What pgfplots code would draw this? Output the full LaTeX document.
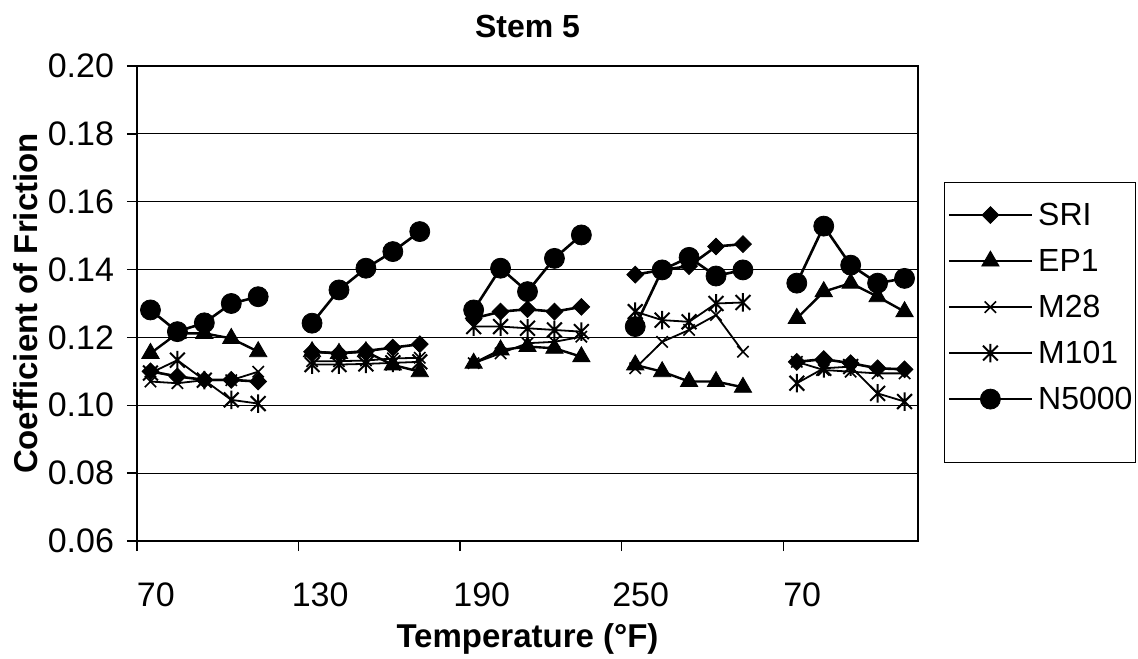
\documentclass[border=0pt]{standalone}
\usepackage{fontspec}
\setmainfont{Liberation Sans}
\usepackage{pgfplots}
\pgfplotsset{compat=1.18}
\usepackage{pgfplotstable}

\pgfdeclareplotmark{xast}{%
  \pgfpathmoveto{\pgfqpoint{-\pgfplotmarksize}{-\pgfplotmarksize}}%
  \pgfpathlineto{\pgfqpoint{\pgfplotmarksize}{\pgfplotmarksize}}%
  \pgfpathmoveto{\pgfqpoint{-\pgfplotmarksize}{\pgfplotmarksize}}%
  \pgfpathlineto{\pgfqpoint{\pgfplotmarksize}{-\pgfplotmarksize}}%
  \pgfpathmoveto{\pgfqpoint{0pt}{-1.25\pgfplotmarksize}}%
  \pgfpathlineto{\pgfqpoint{0pt}{1.25\pgfplotmarksize}}%
  \pgfusepathqstroke}
\pgfdeclareplotmark{sqdiamond}{%
  \pgfpathmoveto{\pgfqpoint{0pt}{\pgfplotmarksize}}%
  \pgfpathlineto{\pgfqpoint{\pgfplotmarksize}{0pt}}%
  \pgfpathlineto{\pgfqpoint{0pt}{-\pgfplotmarksize}}%
  \pgfpathlineto{\pgfqpoint{-\pgfplotmarksize}{0pt}}%
  \pgfpathclose
  \pgfusepathqfillstroke}

\pgfplotstableread{
x y
0 0.1100
1 0.1085
2 0.1075
3 0.1075
4 0.1070
5 nan
6 0.1158
7 0.1153
8 0.1160
9 0.1170
10 0.1180
11 nan
12 0.1256
13 0.1276
14 0.1283
15 0.1276
16 0.1290
17 nan
18 0.1385
19 0.1399
20 0.1410
21 0.1468
22 0.1475
23 nan
24 0.1128
25 0.1136
26 0.1124
27 0.1109
28 0.1106
}\sri

\pgfplotstableread{
x y
0 0.1153
1 0.1212
2 0.1212
3 0.1197
4 0.1158
5 nan
6 0.1158
7 0.1153
8 0.1158
9 0.1119
10 0.1099
11 nan
12 0.1124
13 0.1163
14 0.1173
15 0.1168
16 0.1143
17 nan
18 0.1119
19 0.1099
20 0.1070
21 0.1070
22 0.1053
23 nan
24 0.1256
25 0.1335
26 0.1360
27 0.1320
28 0.1276
}\epone

\pgfplotstableread{
x y
0 0.1070
1 0.1065
2 0.1074
3 0.1074
4 0.1099
5 nan
6 0.1130
7 0.1130
8 0.1132
9 0.1138
10 0.1140
11 nan
12 0.1124
13 0.1153
14 0.1183
15 0.1187
16 0.1202
17 nan
18 0.1109
19 0.1187
20 0.1222
21 0.1266
22 0.1158
23 nan
24 0.1128
25 0.1104
26 0.1099
27 0.1094
28 0.1094
}\mtwe

\pgfplotstableread{
x y
0 0.1095
1 0.1133
2 0.1074
3 0.1016
4 0.1005
5 nan
6 0.1120
7 0.1120
8 0.1122
9 0.1125
10 0.1128
11 nan
12 0.1232
13 0.1232
14 0.1227
15 0.1222
16 0.1217
17 nan
18 0.1276
19 0.1251
20 0.1246
21 0.1300
22 0.1303
23 nan
24 0.1065
25 0.1109
26 0.1114
27 0.1035
28 0.1011
}\mone

\pgfplotstableread{
x y
0 0.1281
1 0.1217
2 0.1243
3 0.1300
4 0.1320
5 nan
6 0.1242
7 0.1340
8 0.1404
9 0.1453
10 0.1512
11 nan
12 0.1281
13 0.1404
14 0.1335
15 0.1433
16 0.1502
17 nan
18 0.1232
19 0.1399
20 0.1436
21 0.1381
22 0.1399
23 nan
24 0.1360
25 0.1528
26 0.1413
27 0.1360
28 0.1374
}\nfive

\begin{document}
\begin{tikzpicture}
\useasboundingbox (0,0) rectangle (569pt,329pt);
\begin{axis}[
  at={(68.5pt,58.5pt)}, anchor=south west,
  scale only axis, width=390.5pt, height=237.5pt,
  xmin=-0.5, xmax=28.5, ymin=0.06, ymax=0.20,
  unbounded coords=jump,
  axis line style={black, line width=0.8pt},
  tick align=outside, tick pos=left,
  major tick length=5pt,
  tick style={black, line width=0.7pt},
  xtick={-0.5,5.5,11.5,17.5,23.5},
  xticklabels={},
  extra x ticks={0.2,6.3,12.3,18.2,24.2},
  extra x tick labels={70,130,190,250,70},
  extra x tick style={major tick length=0pt, grid=none,
     xticklabel style={yshift=-17.5pt}},
  ytick={0.06,0.08,0.10,0.12,0.14,0.16,0.18,0.20},
  ymajorgrids, grid style={black, line width=0.6pt},
  /pgf/number format/assume math mode=true,
  yticklabel style={/pgf/number format/fixed, /pgf/number format/fixed zerofill, /pgf/number format/precision=2, xshift=-3pt},
  tick label style={font=\fontsize{17}{19}\selectfont},
  title={\textbf{Stem 5}},
  title style={at={(axis description cs:0.5,1)}, anchor=center, yshift=14pt, font=\fontsize{16}{18}\selectfont},
  xlabel={\textbf{Temperature (°F)}},
  xlabel style={at={(axis description cs:0.5,0)}, anchor=center, yshift=-49pt, font=\fontsize{16.5}{19}\selectfont},
  ylabel={\textbf{Coefficient of Friction}},
  ylabel style={at={(axis description cs:-0.1268,0.5)}, anchor=base, font=\fontsize{16.5}{19}\selectfont},
  legend style={at={(axis description cs:1,1)}, anchor=north west, xshift=13pt, yshift=-58pt,
     draw=black, line width=0.6pt, inner xsep=1.5pt, inner ysep=11pt,
     font=\fontsize{16}{18}\selectfont,
     nodes={inner sep=0pt, text height=10.5pt, text depth=0pt, anchor=west},
     row sep=12.5pt,
     /tikz/every odd column/.append style={column sep=2.5pt}},
  legend cell align=left,
  legend image code/.code={\draw[mark repeat=2,mark phase=2] plot coordinates {(0pt,0pt) (20.75pt,0pt) (41.5pt,0pt)};},
]
\addplot[black, line width=1.3pt, mark=sqdiamond, mark size=4.2pt, mark options={solid, line width=0.4pt}] table {\sri};
\addlegendentry{SRI}
\addplot[black, line width=1.2pt, mark=triangle*, mark size=5pt, mark options={solid, line width=0.4pt}] table {\epone};
\addlegendentry{EP1}
\addplot[black, line width=0.9pt, mark=x, mark size=4pt, mark options={solid, line width=0.8pt}] table {\mtwe};
\addlegendentry{M28}
\addplot[black, line width=0.9pt, mark=xast, mark size=3.7pt, mark options={solid, line width=1.0pt}] table {\mone};
\addlegendentry{M101}
\addplot[black, line width=1.3pt, mark=*, mark size=5pt, mark options={solid, line width=0.4pt}] table {\nfive};
\addlegendentry{N5000}
\addlegendimage{empty legend}
\addlegendentry[text height=3pt]{}
\end{axis}
\end{tikzpicture}
\end{document}
